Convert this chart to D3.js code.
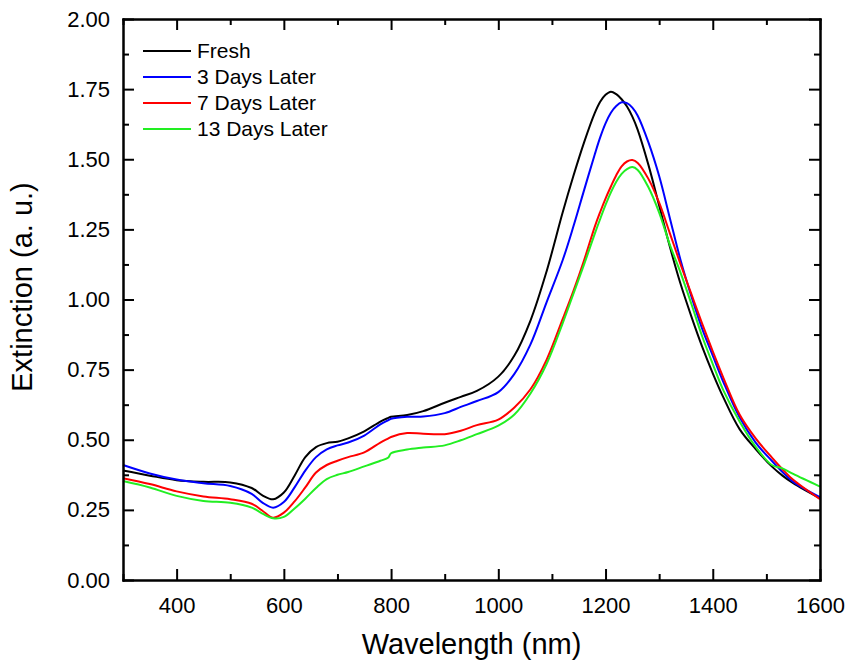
<!DOCTYPE html>
<meta charset="utf-8">
<style>
  body { margin: 0; background: #fff; }
  svg { font-family: "Liberation Sans", Arial, sans-serif; }
  .axis path, .axis line { stroke: #000; stroke-width: 2; }
  .axis text { font-size: 22px; fill: #000; }
</style>
<body>
<div id="chart"></div>
<script src="https://d3js.org/d3.v7.min.js"></script>
<script>
  // wavelength grid (nm)
  var wavelength = [300, 350, 400, 450, 500, 540, 560, 580, 600, 620, 640, 660, 680, 700, 720, 750, 780, 795, 800, 830, 860, 900, 930, 960, 1000,
    1030, 1060, 1090, 1120, 1140, 1160, 1180, 1190, 1200, 1210, 1220, 1230, 1240, 1250, 1260, 1280, 1300, 1320, 1340, 1360, 1380, 1400,
    1420, 1450, 1480, 1510, 1530, 1550, 1600];

  var fresh = [0.390, 0.372, 0.356, 0.350, 0.348, 0.328, 0.302, 0.288, 0.312, 0.372, 0.438, 0.474, 0.488, 0.493, 0.505, 0.530, 0.565, 0.578, 0.582, 0.588, 0.602, 0.632, 0.653, 0.674, 0.725,
    0.800, 0.925, 1.100, 1.310, 1.440, 1.560, 1.665, 1.705, 1.730, 1.741, 1.732, 1.714, 1.688, 1.652, 1.605, 1.480, 1.335, 1.188, 1.055, 0.940, 0.833, 0.737,
    0.650, 0.538, 0.467, 0.405, 0.372, 0.345, 0.291];

  var days3 = [0.410, 0.380, 0.358, 0.345, 0.335, 0.307, 0.276, 0.258, 0.278, 0.330, 0.390, 0.438, 0.466, 0.480, 0.490, 0.515, 0.555, 0.570, 0.575, 0.582, 0.583, 0.595, 0.617, 0.638, 0.670,
    0.735, 0.840, 0.990, 1.140, 1.260, 1.390, 1.518, 1.578, 1.628, 1.666, 1.690, 1.703, 1.700, 1.684, 1.655, 1.560, 1.440, 1.290, 1.140, 1.012, 0.897, 0.800,
    0.705, 0.580, 0.490, 0.425, 0.385, 0.350, 0.295];

  var days7 = [0.363, 0.342, 0.316, 0.298, 0.288, 0.272, 0.247, 0.222, 0.240, 0.280, 0.330, 0.383, 0.410, 0.425, 0.438, 0.455, 0.490, 0.505, 0.510, 0.524, 0.521, 0.520, 0.532, 0.552, 0.572,
    0.615, 0.680, 0.785, 0.930, 1.030, 1.140, 1.260, 1.312, 1.360, 1.403, 1.443, 1.475, 1.492, 1.497, 1.487, 1.430, 1.345, 1.236, 1.125, 1.020, 0.915, 0.815,
    0.720, 0.590, 0.505, 0.437, 0.395, 0.357, 0.288];

  var days13 = [0.353, 0.330, 0.300, 0.282, 0.275, 0.258, 0.237, 0.220, 0.225, 0.255, 0.290, 0.328, 0.360, 0.375, 0.385, 0.405, 0.425, 0.437, 0.452, 0.465, 0.472, 0.480, 0.498, 0.520, 0.550,
    0.590, 0.665, 0.770, 0.915, 1.020, 1.125, 1.235, 1.287, 1.337, 1.382, 1.420, 1.448, 1.465, 1.472, 1.462, 1.400, 1.310, 1.195, 1.095, 0.985, 0.870, 0.770,
    0.675, 0.565, 0.475, 0.410, 0.398, 0.378, 0.333];

  var seriesNames = ["Fresh", "3 Days Later", "7 Days Later", "13 Days Later"];
  var seriesColors = ["#000000", "#0000ff", "#ff0000", "#22ee22"];
  var seriesValues = [fresh, days3, days7, days13];

  var xMajor = [400, 600, 800, 1000, 1200, 1400, 1600];
  var xMinor = [300, 500, 700, 900, 1100, 1300, 1500];
  var yMajor = [0, 0.25, 0.5, 0.75, 1.0, 1.25, 1.5, 1.75, 2.0];
  var yMinor = [0.125, 0.375, 0.625, 0.875, 1.125, 1.375, 1.625, 1.875];

  var margin = { top: 19, right: 28, bottom: 84, left: 123 };
  var totalW = 848, totalH = 664;
  var width = totalW - margin.left - margin.right;
  var height = totalH - margin.top - margin.bottom;

  var svg = d3.select("#chart").append("svg")
    .attr("width", totalW)
    .attr("height", totalH);

  var g = svg.append("g")
    .attr("transform", "translate(" + margin.left + "," + margin.top + ")");

  var x = d3.scaleLinear().domain([300, 1600]).range([0, width]);
  var y = d3.scaleLinear().domain([0, 2]).range([height, 0]);

  var line = d3.line()
    .x(function (d) { return x(d[0]); })
    .y(function (d) { return y(d[1]); })
    .curve(d3.curveCatmullRom.alpha(0.5));

  // curves
  seriesValues.forEach(function (vals, i) {
    var pts = wavelength.map(function (w, j) { return [w, vals[j]]; });
    g.append("path")
      .datum(pts)
      .attr("fill", "none")
      .attr("stroke", seriesColors[i])
      .attr("stroke-width", 2)
      .attr("d", line);
  });

  // axes, ticks pointing inward on all sides
  function addAxis(axisFn, scale, ticks, size, fmt, transform, pad) {
    var a = axisFn(scale).tickValues(ticks).tickSizeInner(-size).tickSizeOuter(0).tickPadding(pad);
    a.tickFormat(fmt ? fmt : "");
    var sel = g.append("g").attr("class", "axis");
    if (transform) sel.attr("transform", transform);
    sel.call(a);
    return sel;
  }

  addAxis(d3.axisBottom, x, xMajor, 11, function (d) { return d; }, "translate(0," + height + ")", 17);
  addAxis(d3.axisBottom, x, xMinor, 6, null, "translate(0," + height + ")", 17);
  addAxis(d3.axisTop, x, xMajor, 11, null, null, 0);
  addAxis(d3.axisTop, x, xMinor, 6, null, null, 0);

  addAxis(d3.axisLeft, y, yMajor, 11, d3.format(".2f"), null, 13);
  addAxis(d3.axisLeft, y, yMinor, 6, null, null, 13);
  addAxis(d3.axisRight, y, yMajor, 11, null, "translate(" + width + ",0)", 0);
  addAxis(d3.axisRight, y, yMinor, 6, null, "translate(" + width + ",0)", 0);

  g.selectAll(".axis .domain").attr("stroke-linecap", "square");

  // axis titles
  svg.append("text")
    .attr("x", margin.left + width / 2)
    .attr("y", 654)
    .attr("text-anchor", "middle")
    .style("font-size", "29px")
    .text("Wavelength (nm)");

  svg.append("text")
    .attr("transform", "translate(32,287) rotate(-90)")
    .attr("text-anchor", "middle")
    .style("font-size", "29px")
    .text("Extinction (a. u.)");

  // legend
  var legend = g.append("g").attr("transform", "translate(20,32)");
  seriesNames.forEach(function (name, i) {
    var row = legend.append("g").attr("transform", "translate(0," + (i * 26) + ")");
    row.append("line")
      .attr("x1", 0).attr("x2", 48)
      .attr("y1", 0).attr("y2", 0)
      .attr("stroke", seriesColors[i])
      .attr("stroke-width", 2);
    row.append("text")
      .attr("x", 54)
      .attr("y", 0)
      .attr("dy", "0.35em")
      .style("font-size", "21px")
      .text(name);
  });
</script>
</body>
